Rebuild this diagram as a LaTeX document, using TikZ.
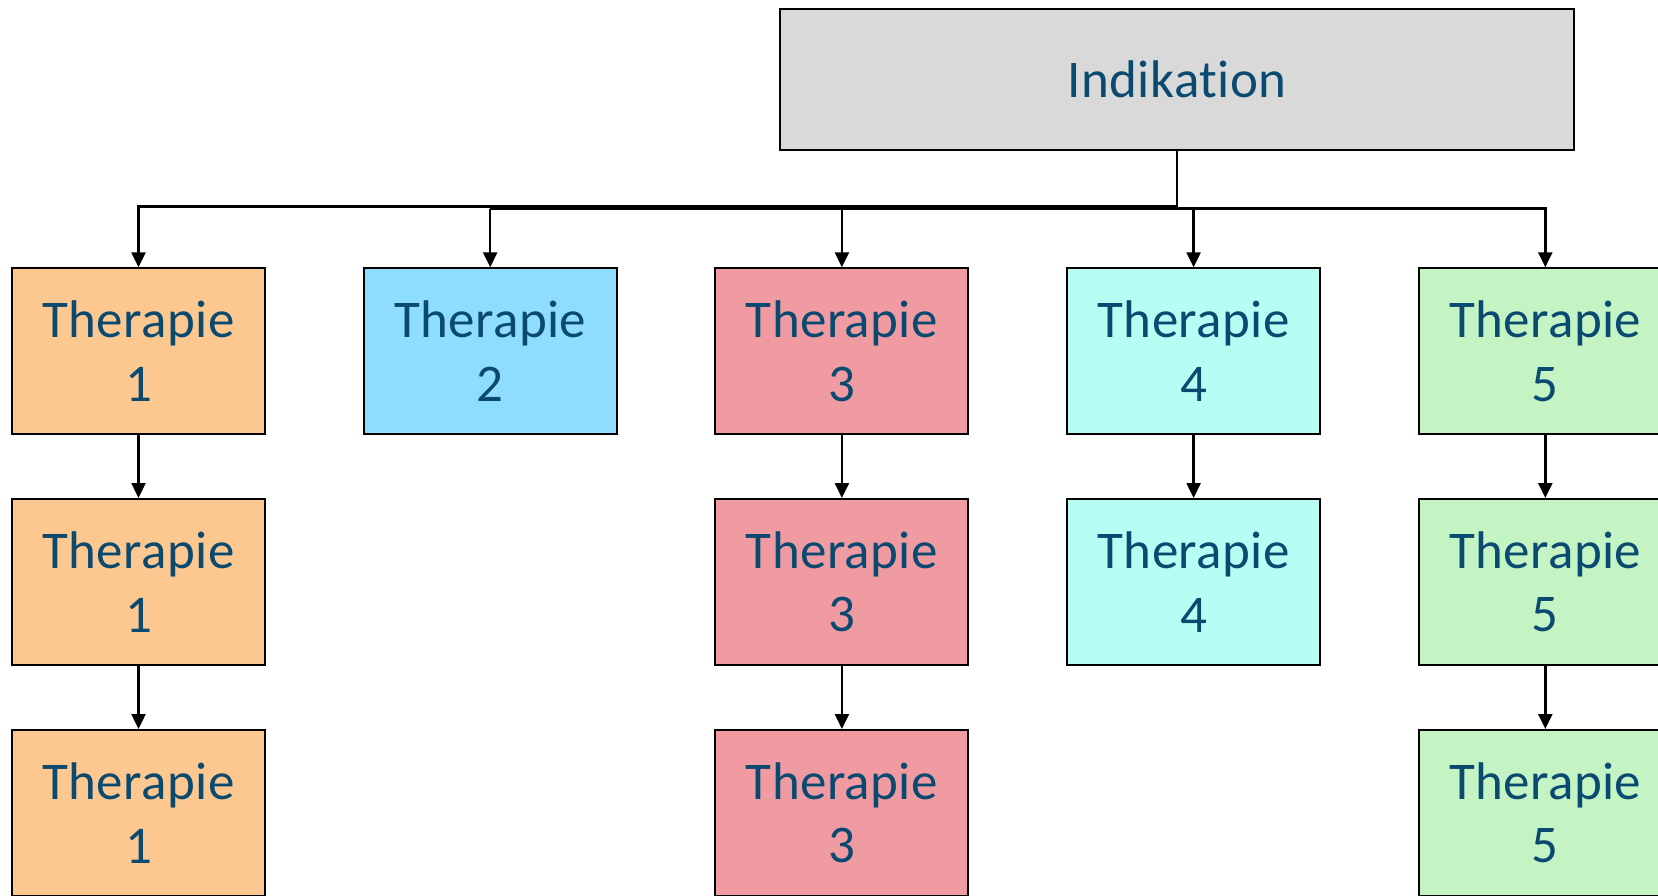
\documentclass[tikz,border=0pt]{standalone}
\usepackage{fontspec}
\setmainfont{Carlito}[Ligatures={NoCommon}, LetterSpace=0.8]
\usetikzlibrary{arrows.meta}

\definecolor{txtblue}{HTML}{0B4A70}
\definecolor{indgray}{HTML}{D9D9D9}
\definecolor{thOrange}{HTML}{FCC88F}
\definecolor{thBlue}{HTML}{8FDDFC}
\definecolor{thPink}{HTML}{F09BA2}
\definecolor{thCyan}{HTML}{B7FDF4}
\definecolor{thGreen}{HTML}{C4F4C4}

\tikzset{
  box/.style={draw=black, line width=2pt, rectangle, inner sep=0pt,
    minimum width=253pt, minimum height=166pt, align=center,
    text=txtblue, font=\fontsize{53}{63.5}\selectfont},
  topbox/.style={draw=black, line width=2pt, rectangle, inner sep=0pt,
    minimum width=794pt, minimum height=141pt, fill=indgray,
    text=txtblue, font=\fontsize{53}{63.5}\selectfont},
  link/.style={draw=black, line width=2.4pt,
    -{Triangle[length=15pt,width=14pt]}},
  bar/.style={draw=black, line width=2.4pt}
}

\begin{document}
\begin{tikzpicture}[x=1pt,y=-1pt]
  \useasboundingbox (0,0) rectangle (1658,895);
  \clip (0,0) rectangle (1658,895);

  % root
  \node[topbox] (ind) at (1177,79.7) {Indikation};

  % first row
  \node[box, fill=thOrange] (t1a) at (138.5,351.3) {Therapie\\1};
  \node[box, fill=thBlue]   (t2a) at (490.2,351.3) {Therapie\\2};
  \node[box, fill=thPink]   (t3a) at (841.9,351.3) {Therapie\\3};
  \node[box, fill=thCyan]   (t4a) at (1193.6,351.3) {Therapie\\4};
  \node[box, fill=thGreen]  (t5a) at (1545.3,351.3) {Therapie\\5};

  % second row
  \node[box, fill=thOrange] (t1b) at (138.5,582) {Therapie\\1};
  \node[box, fill=thPink]   (t3b) at (841.9,582) {Therapie\\3};
  \node[box, fill=thCyan]   (t4b) at (1193.6,582) {Therapie\\4};
  \node[box, fill=thGreen]  (t5b) at (1545.3,582) {Therapie\\5};

  % third row
  \node[box, fill=thOrange] (t1c) at (138.5,813) {Therapie\\1};
  \node[box, fill=thPink]   (t3c) at (841.9,813) {Therapie\\3};
  \node[box, fill=thGreen]  (t5c) at (1545.3,813) {Therapie\\5};

  % branch lines below the root
  \coordinate (split) at (ind.south |- 0,206.5);
  \coordinate (busL) at (t2a.north |- 0,208.6);
  \coordinate (busR) at (t5a.north |- 0,208.6);

  \draw[link] (ind.south) -- (split) -| (t1a.north);
  \draw[bar] (busL) -- (busR);
  \draw[link] (busL) -- (t2a.north);
  \draw[link] (busL) -| (t3a.north);
  \draw[link] (busL) -| (t4a.north);
  \draw[link] (busL) -| (t5a.north);

  % columns
  \draw[link] (t1a) -- (t1b);
  \draw[link] (t1b) -- (t1c);
  \draw[link] (t3a) -- (t3b);
  \draw[link] (t3b) -- (t3c);
  \draw[link] (t4a) -- (t4b);
  \draw[link] (t5a) -- (t5b);
  \draw[link] (t5b) -- (t5c);
\end{tikzpicture}
\end{document}
